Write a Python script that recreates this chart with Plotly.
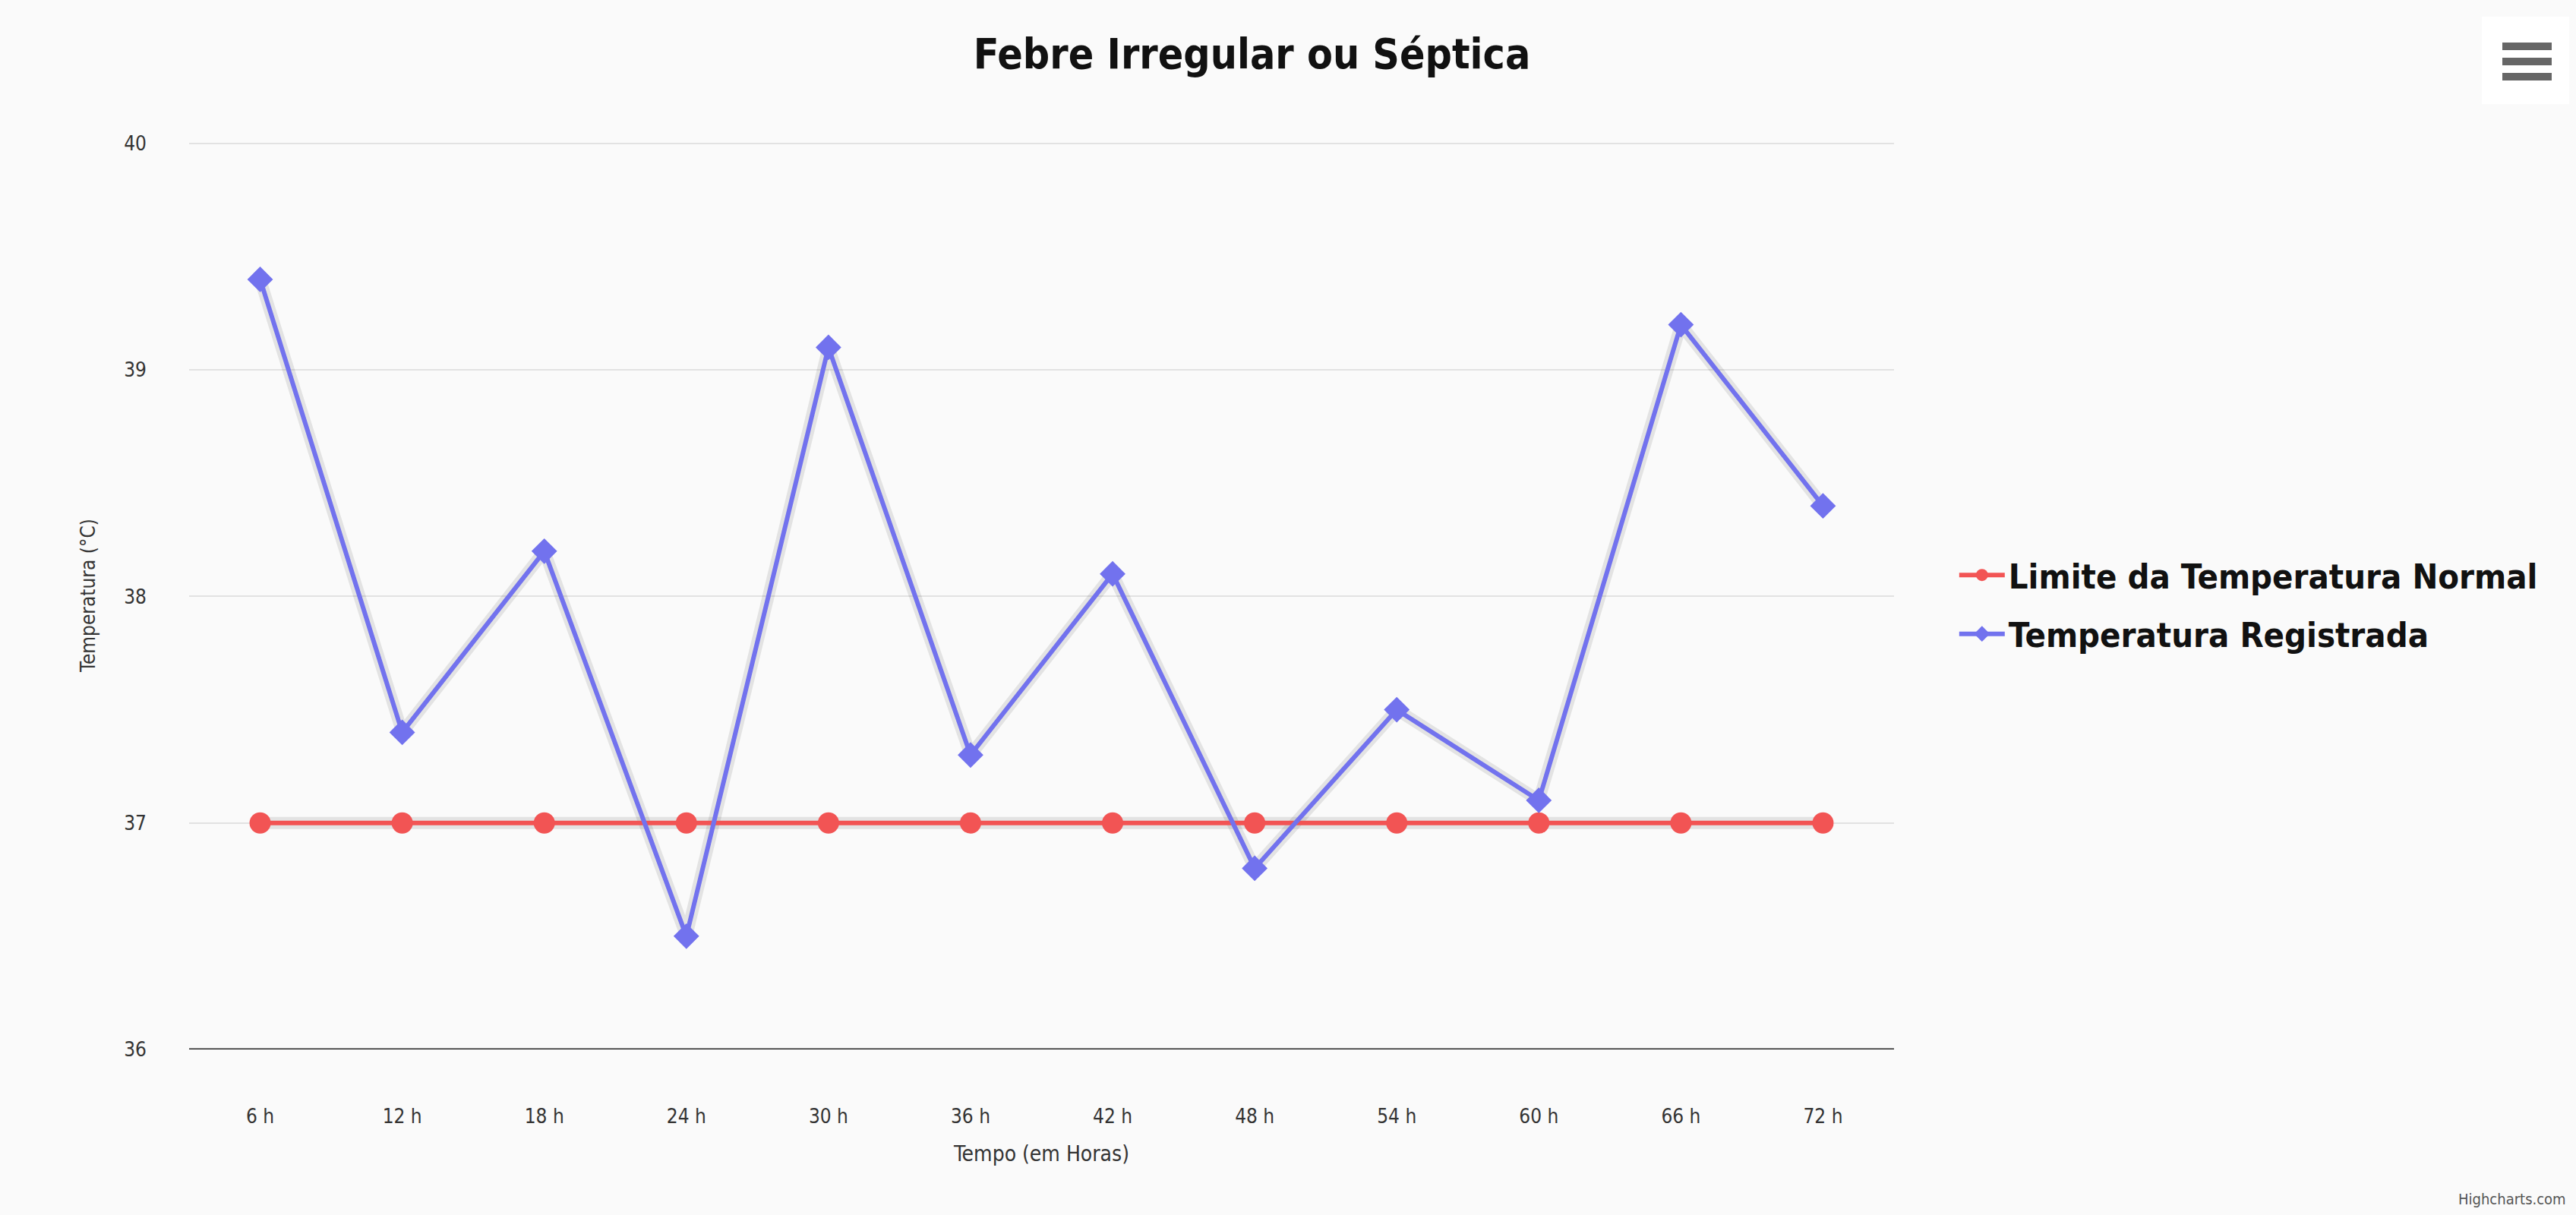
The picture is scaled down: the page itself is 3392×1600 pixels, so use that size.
import plotly.graph_objects as go

categories = ["6 h", "12 h", "18 h", "24 h", "30 h", "36 h", "42 h", "48 h", "54 h", "60 h", "66 h", "72 h"]
limite_normal = [37, 37, 37, 37, 37, 37, 37, 37, 37, 37, 37, 37]
temp_registrada = [39.4, 37.4, 38.2, 36.5, 39.1, 37.3, 38.1, 36.8, 37.5, 37.1, 39.2, 38.4]
y_ticks = [36, 37, 38, 39, 40]

W, H = 3392, 1600
ML, MR, MT, MB = 249, 898, 186, 218
PW, PH = W - ML - MR, H - MT - MB

def px(x):
    return (x - ML) / PW

def py(y):
    return (H - MB - y) / PH

COND = "Liberation Sans Narrow, DejaVu Sans Condensed, Arial Narrow, sans-serif"
RED = "#f25454"
BLUE = "#7272ee"

fig = go.Figure()

# shadows
for series in (limite_normal, temp_registrada):
    fig.add_trace(go.Scatter(x=categories, y=series, mode="lines",
                             line=dict(color="rgba(0,0,0,0.09)", width=16),
                             showlegend=False, hoverinfo="skip"))

fig.add_trace(go.Scatter(x=categories, y=limite_normal, mode="lines+markers",
                         name="Limite da Temperatura Normal", legendgroup="a",
                         line=dict(color=RED, width=6),
                         marker=dict(symbol="circle", size=28, color=RED)))
fig.add_trace(go.Scatter(x=categories, y=temp_registrada, mode="lines+markers",
                         name="Temperatura Registrada", legendgroup="b",
                         line=dict(color=BLUE, width=6),
                         marker=dict(symbol="diamond", size=26, color=BLUE)))

shapes = [
    dict(type="rect", xref="paper", yref="paper", x0=px(3268), x1=px(3383), y0=py(137), y1=py(22),
         fillcolor="white", line=dict(width=0), layer="above"),
]
for cy in (61, 81, 101):
    shapes.append(dict(type="rect", xref="paper", yref="paper", x0=px(3295), x1=px(3360),
                       y0=py(cy + 5), y1=py(cy - 5), fillcolor="#666666", line=dict(width=0)))

fig.update_layout(
    width=W, height=H,
    margin=dict(l=ML, r=MR, t=MT, b=MB),
    paper_bgcolor="#fafafa", plot_bgcolor="#fafafa",
    title=dict(text="<b>Febre Irregular ou Séptica</b>", x=0.486, xanchor="center", y=1 - 71 / H, yanchor="middle",
               font=dict(family=COND, size=55, color="#111111")),
    showlegend=True,
    legend=dict(x=1.036, xanchor="left", y=0.49, yanchor="middle",
                font=dict(family=COND, size=45, color="#111111", weight="bold"),
                bgcolor="rgba(0,0,0,0)", itemsizing="trace", itemwidth=60, tracegroupgap=16),
    xaxis=dict(range=[-0.5, 11.5], showgrid=False, zeroline=False, showline=False,
               ticks="", tickfont=dict(family=COND, size=26, color="#333333"),
               ticklabelstandoff=70,
               title=dict(text="Tempo (em Horas)", font=dict(family=COND, size=28, color="#333333"), standoff=25)),
    yaxis=dict(range=[36, 40.01], tickvals=y_ticks, showgrid=True, gridcolor="#e2e2e2", gridwidth=2,
               zeroline=False, showline=False, ticks="",
               tickfont=dict(family=COND, size=26, color="#333333"), ticklabelstandoff=55,
               title=dict(text="Temperatura (°C)", font=dict(family=COND, size=26, color="#333333"), standoff=30)),
    shapes=shapes + [dict(type="line", xref="paper", yref="y", x0=0, x1=1, y0=36, y1=36,
                          line=dict(color="#222222", width=3))],
    annotations=[dict(text="Highcharts.com", xref="paper", yref="paper", x=px(3381), y=py(1579),
                      xanchor="right", yanchor="middle", showarrow=False,
                      font=dict(family=COND, size=20, color="#555555"))],
)

fig.write_html("out.html")
